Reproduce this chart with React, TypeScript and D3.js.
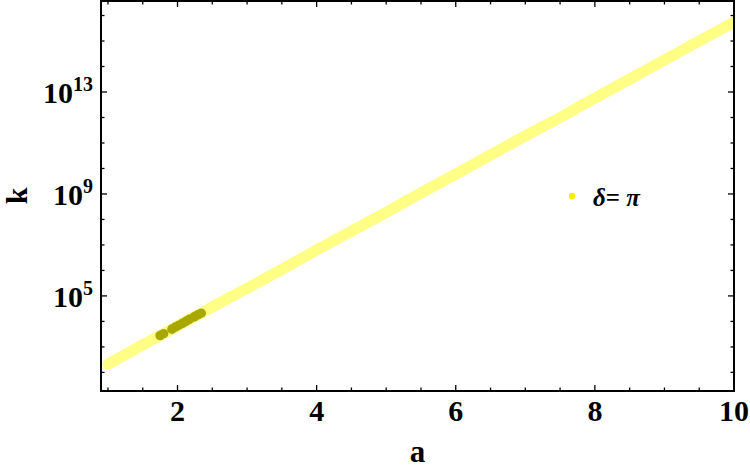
import React, { useEffect, useRef } from 'react';
import * as d3 from 'd3';

// full sweep, delta = pi (light band)
const aAll = [1, 1.5, 2, 2.5, 3, 3.5, 4, 4.5, 5, 5.5, 6, 6.5, 7, 7.5, 8, 8.5, 9, 9.5, 10];
const kAll = [2.1e2, 1.2e3, 6.6e3, 3.7e4, 2.0e5, 1.1e6, 6.3e6, 3.5e7, 1.9e8, 1.1e9, 6.0e9, 3.4e10, 1.9e11, 1.0e12, 5.8e12, 3.2e13, 1.8e14, 1.0e15, 5.5e15];

// highlighted subset (dark points)
const aSel = [1.75, 1.8, 1.92, 1.97, 2.02, 2.07, 2.12, 2.17, 2.24, 2.29, 2.34];
const kSel = [2.8e3, 3.3e3, 5.0e3, 6.0e3, 7.1e3, 8.4e3, 1.0e4, 1.2e4, 1.5e4, 1.8e4, 2.1e4];

const xMajor = [2, 4, 6, 8, 10];
const xMinor = [1, 1.5, 2.5, 3, 3.5, 4.5, 5, 5.5, 6.5, 7, 7.5, 8.5, 9, 9.5];
const yMajorExp = [5, 9, 13];
const yMinorExp = [2, 3, 4, 6, 7, 8, 10, 11, 12, 14, 15, 16];

const Chart = () => {
  const ref = useRef<SVGSVGElement>(null);

  useEffect(() => {
    const width = 750;
    const height = 471;
    const left = 101, right = 734, top = 1, bottom = 391;

    const svg = d3.select(ref.current);
    svg.selectAll('*').remove();

    const x = d3.scaleLinear().domain([0.9, 10]).range([left, right]);
    const y = d3.scaleLog().domain([Math.pow(10, 1.27), Math.pow(10, 16.57)]).range([bottom, top]);

    svg.append('defs').append('clipPath').attr('id', 'plotclip')
      .append('rect').attr('x', left).attr('y', top)
      .attr('width', right - left).attr('height', bottom - top);

    const g = svg.append('g').attr('clip-path', 'url(#plotclip)');

    const allPts = aAll.map((a, i) => [a, kAll[i]] as [number, number]);
    const line = d3.line<[number, number]>().x(d => x(d[0])).y(d => y(d[1]));

    g.append('path')
      .attr('d', line(allPts))
      .attr('fill', 'none')
      .attr('stroke', '#ffff85')
      .attr('stroke-width', 11)
      .attr('stroke-linecap', 'round')
      .attr('stroke-linejoin', 'round');

    g.selectAll('circle.sel')
      .data(aSel.map((a, i) => [a, kSel[i]]))
      .enter()
      .append('circle')
      .attr('class', 'sel')
      .attr('cx', d => x(d[0]))
      .attr('cy', d => y(d[1]))
      .attr('r', 4.8)
      .attr('fill', '#a8a800');

    // frame
    svg.append('rect')
      .attr('x', left).attr('y', top)
      .attr('width', right - left).attr('height', bottom - top)
      .attr('fill', 'none').attr('stroke', '#000').attr('stroke-width', 2);

    const ticks = svg.append('g').attr('stroke', '#000').attr('stroke-width', 1.3);
    const xTick = (v: number, len: number) => {
      ticks.append('line').attr('x1', x(v)).attr('x2', x(v)).attr('y1', bottom).attr('y2', bottom - len);
      ticks.append('line').attr('x1', x(v)).attr('x2', x(v)).attr('y1', top).attr('y2', top + len);
    };
    const yTick = (e: number, len: number) => {
      const yy = y(Math.pow(10, e));
      ticks.append('line').attr('x1', left).attr('x2', left + len).attr('y1', yy).attr('y2', yy);
      ticks.append('line').attr('x1', right).attr('x2', right - len).attr('y1', yy).attr('y2', yy);
    };
    xMajor.forEach(v => xTick(v, 6));
    xMinor.forEach(v => xTick(v, 3.5));
    yMajorExp.forEach(e => yTick(e, 6));
    yMinorExp.forEach(e => yTick(e, 3.5));

    const font = '"Liberation Serif", "Times New Roman", serif';

    svg.selectAll('text.xl')
      .data(xMajor)
      .enter()
      .append('text')
      .attr('class', 'xl')
      .attr('x', d => x(d))
      .attr('y', 421)
      .attr('text-anchor', 'middle')
      .attr('font-family', font)
      .attr('font-weight', 'bold')
      .attr('font-size', 30)
      .text(d => d);

    yMajorExp.forEach(e => {
      const t = svg.append('text')
        .attr('x', 93)
        .attr('y', y(Math.pow(10, e)) + 11)
        .attr('text-anchor', 'end')
        .attr('font-family', font)
        .attr('font-weight', 'bold')
        .attr('font-size', 30);
      t.append('tspan').text('10');
      t.append('tspan').attr('font-size', 20).attr('dy', -12).text(e);
    });

    svg.append('text')
      .attr('transform', `translate(27,${(top + bottom) / 2}) rotate(-90)`)
      .attr('text-anchor', 'middle')
      .attr('font-family', font)
      .attr('font-weight', 'bold')
      .attr('font-size', 30)
      .text('k');

    svg.append('text')
      .attr('x', (left + right) / 2)
      .attr('y', 462)
      .attr('text-anchor', 'middle')
      .attr('font-family', font)
      .attr('font-weight', 'bold')
      .attr('font-size', 31)
      .text('a');

    // legend
    svg.append('circle').attr('cx', 572).attr('cy', 196).attr('r', 3.2).attr('fill', '#fff000');
    const lt = svg.append('text')
      .attr('x', 593)
      .attr('y', 206)
      .attr('font-family', font)
      .attr('font-weight', 'bold')
      .attr('font-size', 25);
    lt.append('tspan').attr('font-style', 'italic').text('δ');
    lt.append('tspan').text('= ');
    lt.append('tspan').attr('font-style', 'italic').text('π');

    svg.attr('width', width).attr('height', height);
  }, []);

  return <svg ref={ref} width={750} height={471} style={{ position: 'absolute', left: 0, top: 0 }} />;
};

export default function App() {
  return <Chart />;
}
